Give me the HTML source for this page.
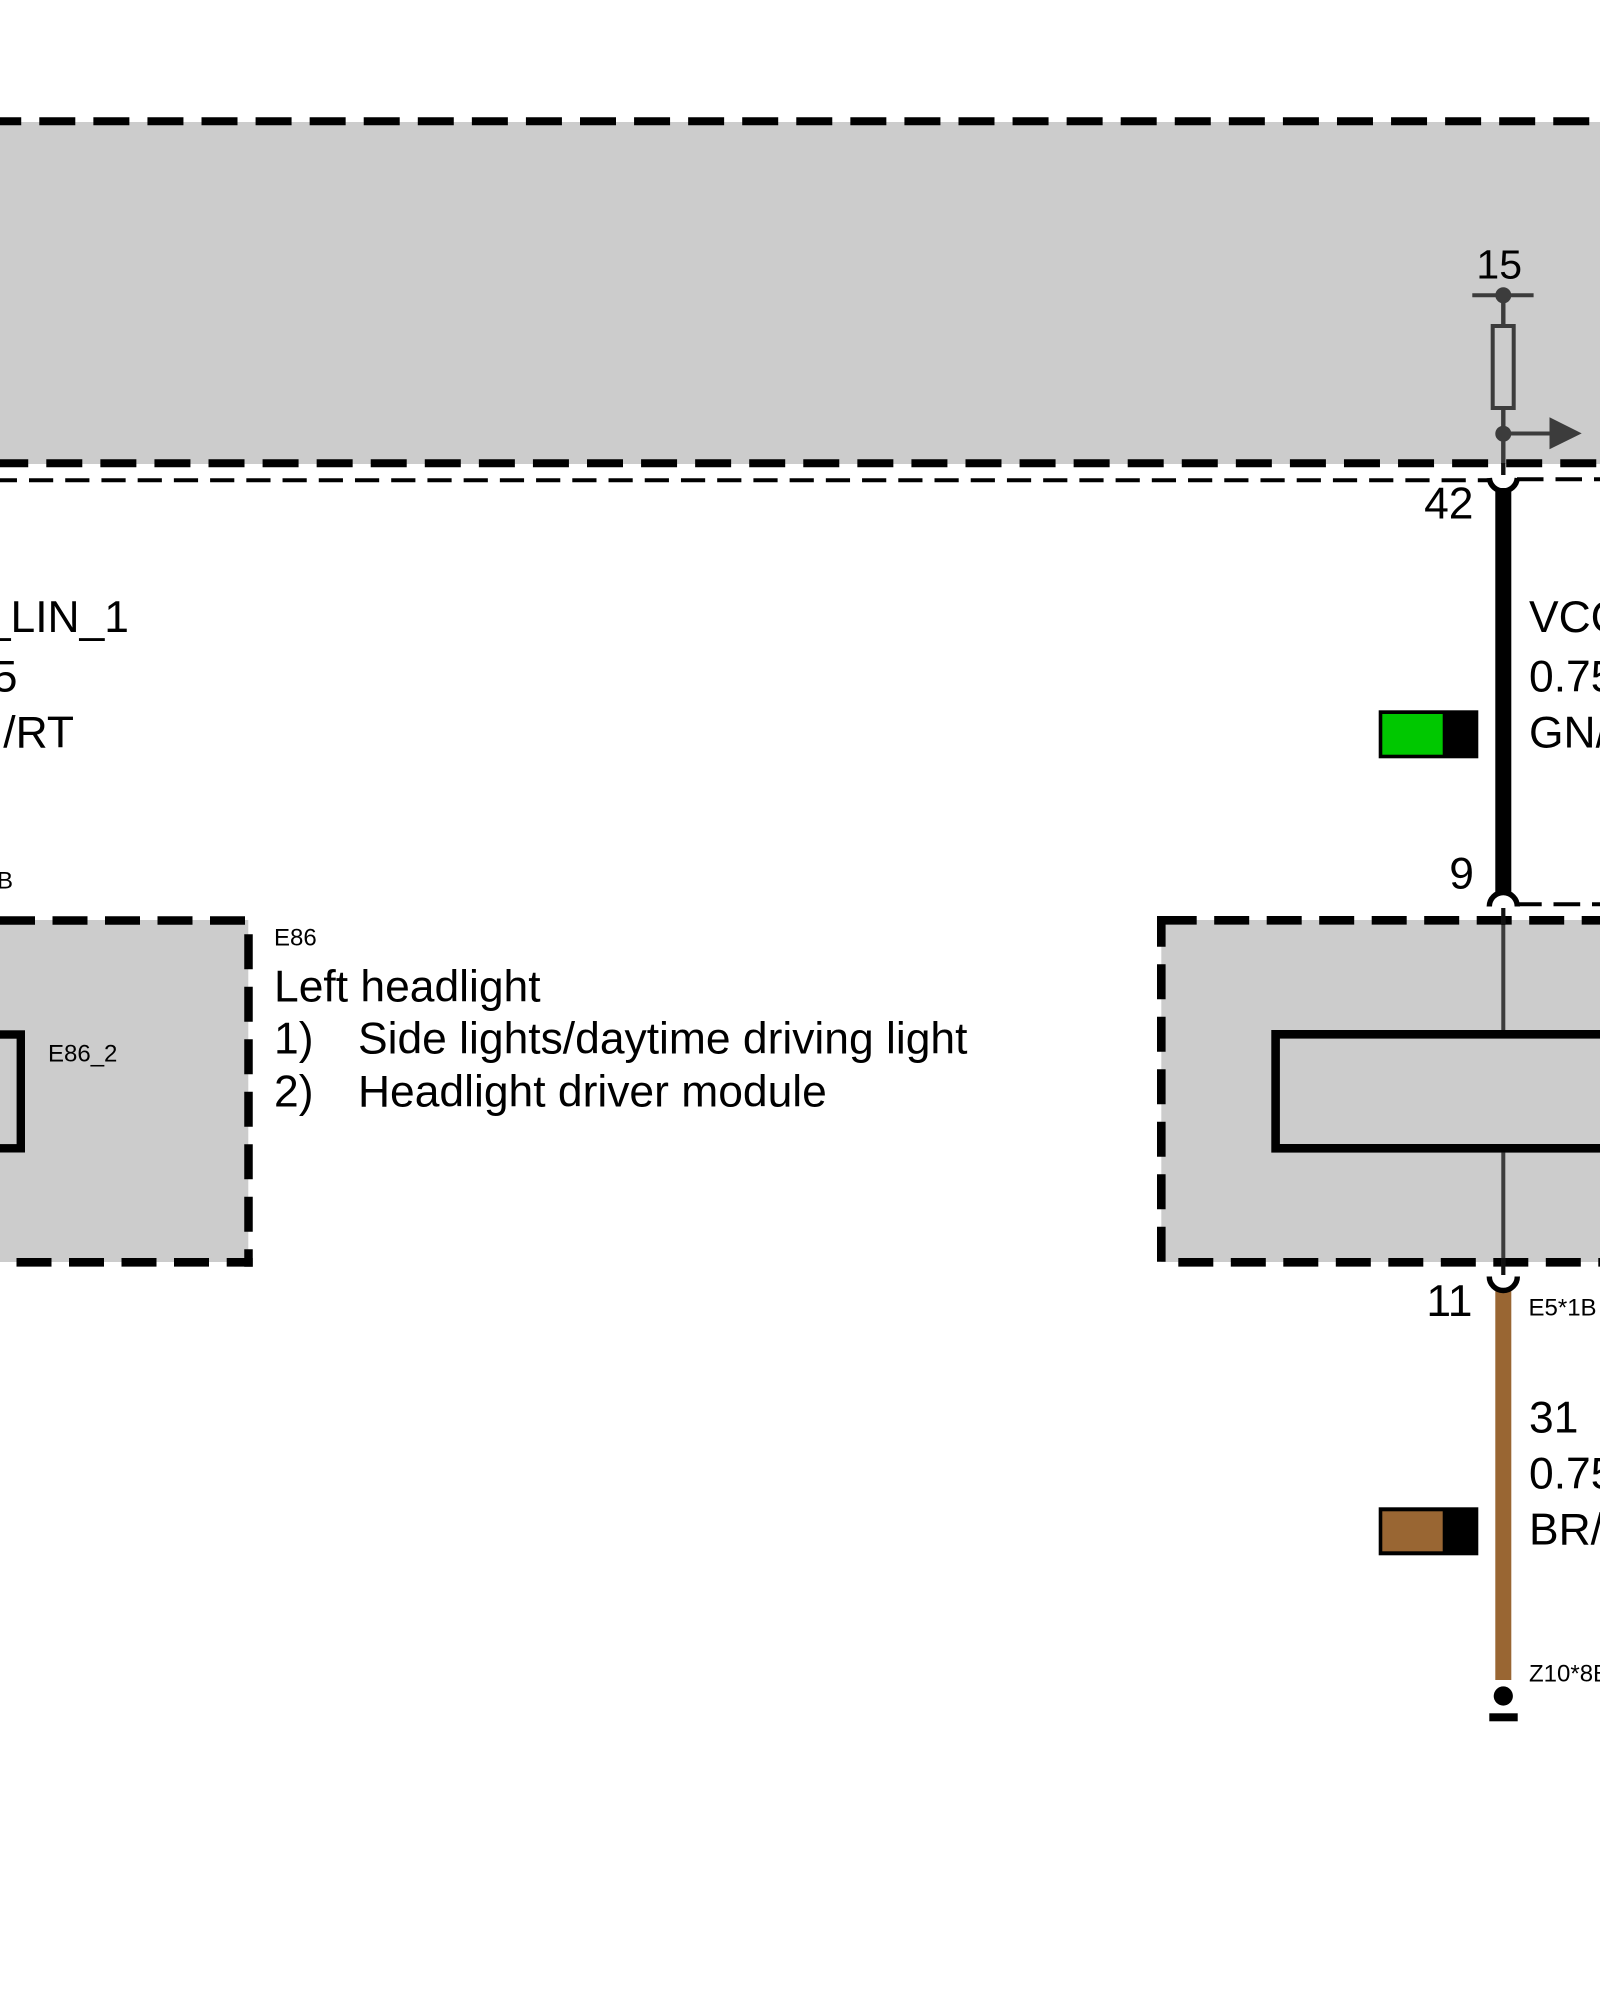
<!DOCTYPE html>
<html>
<head>
<meta charset="utf-8">
<style>
html,body{margin:0;padding:0;background:#fff;}
svg{display:block;}
text{font-family:"Liberation Sans",sans-serif;fill:#000;}
.m{font-size:44.4px;}
.s{font-size:24px;}
</style>
</head>
<body>
<svg width="1600" height="2000" viewBox="0 0 1600 2000" xmlns="http://www.w3.org/2000/svg">
<rect width="1600" height="2000" fill="#fff"/>

<!-- top gray block -->
<rect x="0" y="122" width="1600" height="342" fill="#cccccc"/>
<line x1="-14.77" y1="121.3" x2="1600" y2="121.3" stroke="#000" stroke-width="8" stroke-dasharray="36 18.07"/>
<line x1="-7.77" y1="463.3" x2="1600" y2="463.3" stroke="#000" stroke-width="8" stroke-dasharray="36 18.07"/>

<!-- thin dashed connector lines -->
<line x1="-7.22" y1="480.3" x2="1490" y2="480.3" stroke="#000" stroke-width="4" stroke-dasharray="24.2 12.02"/>
<line x1="1517" y1="479.3" x2="1600" y2="479.3" stroke="#000" stroke-width="4" stroke-dasharray="26.5 12"/>
<line x1="1515" y1="904.3" x2="1600" y2="904.3" stroke="#000" stroke-width="4" stroke-dasharray="26.7 11.8"/>

<!-- fuse / internal circuit -->
<line x1="1472.3" y1="295.3" x2="1533.6" y2="295.3" stroke="#3c3c3c" stroke-width="4"/>
<line x1="1503.3" y1="295.3" x2="1503.3" y2="464" stroke="#3c3c3c" stroke-width="4.4"/>
<line x1="1503.3" y1="463" x2="1503.3" y2="475" stroke="#111" stroke-width="4.4"/>
<circle cx="1503.3" cy="295.3" r="8" fill="#3c3c3c"/>
<rect x="1492.7" y="326" width="21" height="82" fill="#cccccc" stroke="#3c3c3c" stroke-width="4"/>
<circle cx="1503.3" cy="433.7" r="8" fill="#3c3c3c"/>
<line x1="1503.3" y1="433.5" x2="1552" y2="433.5" stroke="#3c3c3c" stroke-width="4"/>
<polygon points="1549.5,417.3 1581.7,433.4 1549.5,449.3" fill="#3c3c3c"/>

<!-- left block -->
<rect x="0" y="920" width="248.3" height="342" fill="#cccccc"/>
<line x1="245" y1="920.5" x2="-10" y2="920.5" stroke="#000" stroke-width="8.4" stroke-dasharray="35 17.5"/>
<line x1="248.5" y1="1266.7" x2="248.5" y2="930" stroke="#000" stroke-width="8.5" stroke-dasharray="17.4 17.5 35 17.5 35 17.5 35 17.5 35 17.5 35 17.5 35 17.5"/>
<line x1="252.7" y1="1262.3" x2="-20" y2="1262.3" stroke="#000" stroke-width="8.6" stroke-dasharray="26 17.7 35 17.5 35 17.5 35 17.5 35 17.5 35 17.5"/>
<rect x="-40" y="1034.5" width="60.8" height="113.8" fill="none" stroke="#000" stroke-width="8.4"/>

<!-- right block -->
<rect x="1161.3" y="920" width="438.7" height="342" fill="#cccccc"/>
<line x1="1161.7" y1="920.3" x2="1600" y2="920.3" stroke="#000" stroke-width="8.6" stroke-dasharray="35 17.5"/>
<line x1="1161.3" y1="1261.7" x2="1161.3" y2="916" stroke="#000" stroke-width="8.6" stroke-dasharray="35 17.5"/>
<line x1="1178.3" y1="1262.3" x2="1600" y2="1262.3" stroke="#000" stroke-width="8.6" stroke-dasharray="35 17.5"/>
<line x1="1157" y1="920.3" x2="1162" y2="920.3" stroke="#000" stroke-width="8.6"/>
<rect x="1275.6" y="1034.3" width="400" height="114" fill="none" stroke="#000" stroke-width="8.6"/>
<line x1="1503.3" y1="908" x2="1503.3" y2="1030" stroke="#3c3c3c" stroke-width="4"/>
<line x1="1503.3" y1="1152.5" x2="1503.3" y2="1275" stroke="#3c3c3c" stroke-width="4"/>
<line x1="1503.3" y1="908" x2="1503.3" y2="925" stroke="#111" stroke-width="4"/>
<line x1="1503.3" y1="1258" x2="1503.3" y2="1275" stroke="#111" stroke-width="4"/>

<!-- wires -->
<rect x="1495.3" y="488" width="16" height="407" fill="#000"/>
<rect x="1495.3" y="1289" width="16" height="391" fill="#996633"/>

<!-- connector arcs -->
<path d="M1489.34,478 A14 14 0 0 0 1517.26,478" fill="none" stroke="#000" stroke-width="5.4"/>
<path d="M1489.3,906.5 A14 14 0 0 1 1517.3,906.5" fill="none" stroke="#000" stroke-width="5.4"/>
<path d="M1489.3,1276.5 A14 14 0 0 0 1517.3,1276.5" fill="none" stroke="#000" stroke-width="5.4"/>

<!-- colour swatches -->
<rect x="1378.7" y="710.3" width="99.6" height="48" fill="#000"/>
<rect x="1382.3" y="714" width="60.4" height="40.7" fill="#00c800"/>
<rect x="1378.7" y="1507.3" width="99.6" height="48" fill="#000"/>
<rect x="1382.3" y="1511.3" width="60.4" height="40" fill="#996633"/>

<!-- ground -->
<circle cx="1503.3" cy="1696" r="9.6" fill="#000"/>
<rect x="1489.3" y="1713.3" width="28.4" height="8" fill="#000"/>

<!-- labels -->
<text class="m" x="1522" y="278.3" text-anchor="end" style="font-size:41px">15</text>
<text class="m" x="1473.5" y="518.3" text-anchor="end">42</text>
<text class="m" x="1474" y="888.5" text-anchor="end">9</text>
<text class="m" x="1472.5" y="1316" text-anchor="end">11</text>

<text class="m" x="1529" y="632">VCC</text>
<text class="m" x="1529" y="691.7">0.75</text>
<text class="m" x="1529" y="747.5">GN/</text>

<text class="m" x="1529" y="1432.3">31</text>
<text class="m" x="1529" y="1488.3">0.75</text>
<text class="m" x="1529" y="1544.5">BR/</text>

<text class="s" x="1528.5" y="1315.7">E5*1B</text>
<text class="s" x="1529" y="1681.7">Z10*8B</text>

<text class="m" x="129" y="632" text-anchor="end">_LIN_1</text>
<text class="m" x="17.5" y="691.7" text-anchor="end">5</text>
<text class="m" x="74" y="747.5" text-anchor="end">/RT</text>
<text class="s" x="13" y="888.3" text-anchor="end">B</text>

<text class="s" x="48" y="1061.7">E86_2</text>
<text class="s" x="274" y="945.3">E86</text>

<text class="m" x="274" y="1001.7">Left headlight</text>
<text class="m" x="274" y="1053.5">1)</text>
<text class="m" x="358" y="1053.5">Side lights/daytime driving light</text>
<text class="m" x="274" y="1106.6">2)</text>
<text class="m" x="358" y="1106.6">Headlight driver module</text>
</svg>
</body>
</html>
